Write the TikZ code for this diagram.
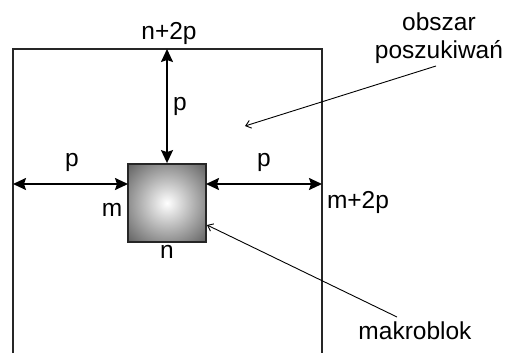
\documentclass[tikz,border=0pt]{standalone}
\usepackage{fontspec}
\setmainfont{Liberation Sans}
\usetikzlibrary{arrows.meta}
\pgfdeclareradialshading{mbshade}{\pgfpoint{0bp}{0bp}}{color(0bp)=(white); color(12bp)=(black!30); color(25bp)=(black!62); color(35bp)=(black!80); color(50bp)=(black!80)}
\begin{document}
\begin{tikzpicture}[x=1pt,y=-1pt,
  lbl/.style={inner sep=0pt,font=\fontsize{24.5}{28}\selectfont},
  frame/.style={line width=1.8pt,draw=black!85},
  dim/.style={line width=1.8pt,{Stealth[length=13pt,width=12pt,inset=2pt]}-{Stealth[length=13pt,width=12pt,inset=2pt]}},
  pointer/.style={line width=0.9pt,-{Straight Barb[length=5pt,width=8pt]}}]
\useasboundingbox (0,0) rectangle (508,353);
% search area frame (open at bottom)
\coordinate (bl) at (13,353);
\coordinate (tl) at (13,49);
\coordinate (tr) at (322,49);
\coordinate (br) at (322,353);
\draw[frame] (bl) -- (tl) -- (tr) -- (br);
% macroblock
\node[draw=black!85,line width=1.8pt,
  path picture={\shade[shading=mbshade] (path picture bounding box.center) circle (55.2pt);},
  minimum width=78pt,minimum height=78pt,inner sep=0pt] (mb) at (167,203) {};
% dimension arrows
\coordinate (vt) at (167,49);
\coordinate (hl) at (13,184);
\coordinate (hr) at (322,184);
\coordinate (mbl) at (128,184);
\coordinate (mbr) at (206,184);
\draw[dim] (vt) -- (mb.north);
\draw[dim] (hl) -- (mbl);
\draw[dim] (mbr) -- (hr);
% labels
\node[lbl] (pv) at (180,106) {p};
\node[lbl] (pl) at (72,162) {p};
\node[lbl] (pr) at (264,162) {p};
\node[lbl] (n2p) at (169,33) {n+2p};
\node[lbl] (m2p) at (358,202) {m+2p};
\node[lbl] (m) at (112,210) {m};
\node[lbl] (n) at (167,252) {n};
\node[lbl] (obs) at (439,22) {obszar};
\node[lbl] (pos) at (439,52) {poszukiwań};
\node[lbl] (mak) at (415,331) {makroblok};
% pointers
\coordinate (obsend) at (436,66);
\coordinate (obstip) at (245,126);
\coordinate (makend) at (397,317);
\coordinate (maktip) at (207,225);
\draw[pointer] (obsend) -- (obstip);
\draw[pointer] (makend) -- (maktip);
\end{tikzpicture}
\end{document}
